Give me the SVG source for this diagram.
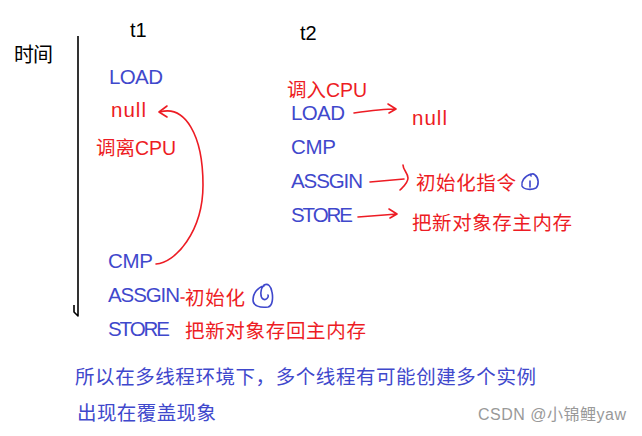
<svg xmlns="http://www.w3.org/2000/svg" width="642" height="436" viewBox="0 0 642 436">
<style>
text{font-family:"Microsoft YaHei","Liberation Sans","Noto Sans CJK SC",sans-serif;}
.k{fill:#000;font-size:20px}
.b{fill:#3F48CC;font-size:20.5px}
.r{fill:#ED1C24;font-size:20.5px}
.rc{fill:#ED1C24;font-size:19.5px}
.bc{fill:#3F48CC;font-size:19.5px}
.ln{fill:none;stroke:#ED1C24;stroke-width:1.6;stroke-linecap:round;stroke-linejoin:round}
.sc{fill:none;stroke:#3F48CC;stroke-width:1.6;stroke-linecap:round;stroke-linejoin:round}
</style>
<rect width="642" height="436" fill="#fff"/>
<g id="axis">
<text class="k" x="14" y="62" textLength="39">时间</text>
<path d="M78,36 L78,316 L74,312 L74,305" fill="none" stroke="#000" stroke-width="1.6" stroke-linejoin="round"/>
<text class="k" x="130" y="37">t1</text>
<text class="k" x="300" y="40">t2</text>
</g>
<g id="t1">
<text class="b" x="109" y="84" textLength="54">LOAD</text>
<text class="r" x="111" y="117" textLength="35">null</text>
<text class="rc" x="96" y="155" textLength="80">调离CPU</text>
<text class="b" x="108" y="268" textLength="45">CMP</text>
<text class="b" x="108" y="302" textLength="72">ASSGIN</text>
<text class="b" x="108" y="336" textLength="62">STORE</text>
<text class="rc" x="185" y="305" textLength="60">初始化</text>
<text class="rc" x="185" y="338" textLength="181">把新对象存回主内存</text>
</g>
<g id="t2">
<text class="rc" x="287" y="97" textLength="80">调入CPU</text>
<text class="b" x="291" y="120" textLength="54">LOAD</text>
<text class="r" x="412" y="125" textLength="35">null</text>
<text class="b" x="291" y="154" textLength="45">CMP</text>
<text class="b" x="291" y="188" textLength="72">ASSGIN</text>
<text class="rc" x="416" y="190" textLength="100">初始化指令</text>
<text class="b" x="291" y="222" textLength="62">STORE</text>
<text class="rc" x="412" y="230" textLength="160">把新对象存主内存</text>
</g>
<g id="notes">
<text class="bc" x="75" y="384" textLength="461">所以在多线程环境下，多个线程有可能创建多个实例</text>
<text class="bc" x="77" y="420" textLength="139">出现在覆盖现象</text>
<text x="478" y="420" fill="#999" font-size="16" textLength="148">CSDN @小锦鲤yaw</text>
</g>
<g id="connectors">
<path class="ln" d="M156,264 C175,263 203,232 203,185 C203,135 185,105 160,112"/>
<path class="ln" d="M167,106 L159,112 L167,117"/>
<path class="ln" d="M354,113 C368,111 382,109 396,109 M388,104 L396,109 L389,113"/>
<path class="ln" d="M370,182 C382,181 393,180 404,179 M403,165 C403,170 408,173 408,178 C408,183 404,186 400,190"/>
<path class="ln" d="M358,217 C372,216 384,215 397,214 M389,209 L397,214 L390,218"/>
<path class="ln" d="M181,298 L184,298"/>
</g>
<g id="scribbles">
<path class="sc" d="M264,286 C258,287 253,293 253,300 C253,306 260,308 268,307 C273,306 273,297 272,292 C271,286 268,283 264,285 C260,289 260,297 263,299 C266,301 269,297 268,295"/>
<path class="sc" d="M531,174 C524,176 521,182 522,186 C524,190 532,190 536,188 C539,185 539,178 535,175 C533,173 530,174 531,176 M530,181 L530,187"/>
</g>
</svg>
